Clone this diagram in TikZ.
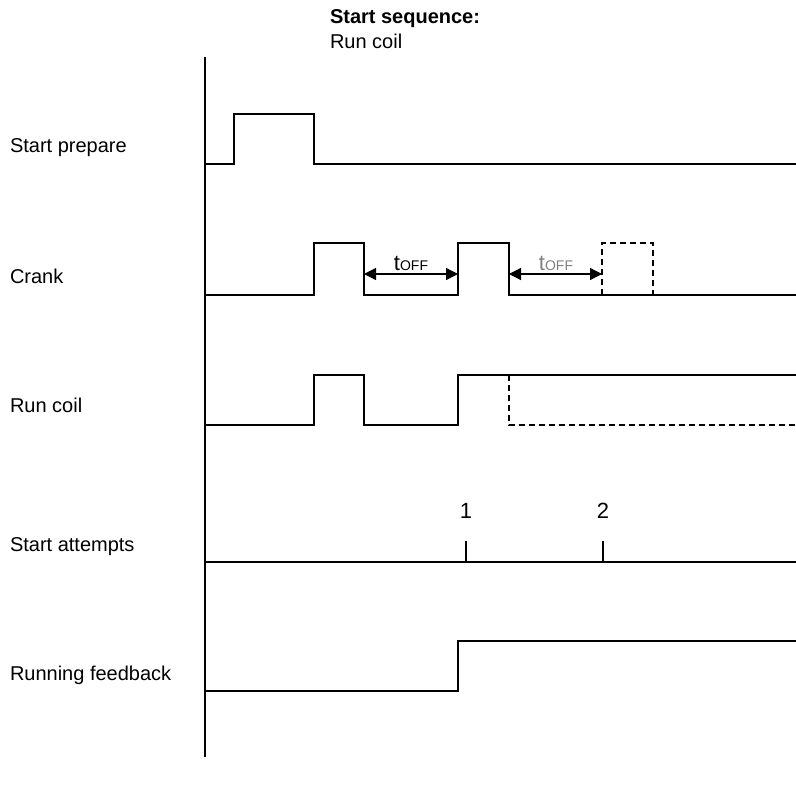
\documentclass[tikz,border=0pt]{standalone}
\usepackage{fontspec}
\setmainfont{Liberation Sans}
\usetikzlibrary{arrows.meta,positioning}

\begin{document}
\begin{tikzpicture}[
    x=1pt, y=-1pt,
    every node/.style={inner sep=0pt, outer sep=0pt},
    lbl/.style={anchor=base west, font=\fontsize{20}{24}\selectfont},
    num/.style={anchor=base, font=\fontsize{22}{26}\selectfont},
    sig/.style={line width=1.3pt, line join=miter},
    ghost/.style={sig, dash pattern=on 6pt off 4pt},
    toff/.style={{Triangle[length=12pt,width=12pt]}-{Triangle[length=12pt,width=12pt]}, line width=1.3pt},
    tag/.style={anchor=base, font=\fontsize{22}{26}\selectfont}
]
\useasboundingbox (0,0) rectangle (796,785);

% Nodes
\node (title) [lbl, font=\fontsize{20}{24}\selectfont\bfseries] at (330,23) {Start sequence:};
\node (sub) [lbl] at (330,48) {Run coil};

\node (lprep) [lbl] at (10,152) {Start prepare};
\node (lcrank) [lbl] at (10,283) {Crank};
\node (lrun) [lbl] at (10,412) {Run coil};
\node (latt) [lbl] at (10,551) {Start attempts};
\node (lfb) [lbl] at (10,680) {Running feedback};

\node (n1) [num] at (466,518) {1};
\node (n2) [num] at (603,518) {2};

% Axis
\coordinate (axtop) at (205,57);
\coordinate (axbot) at (205,757);
\draw [sig] (axtop) -- (axbot);

% Signals
\draw [sig] (205,164) -- (234,164) -- (234,114) -- (314,114) -- (314,164) -- (796,164);

\draw [sig] (205,295) -- (314,295) -- (314,243) -- (364,243) -- (364,295) -- (458,295)
    -- (458,243) -- (509,243) -- (509,295) -- (796,295);
\draw [ghost] (602,295) -- (602,243) -- (653,243) -- (653,295);

\draw [sig] (205,425) -- (314,425) -- (314,375) -- (364,375) -- (364,425) -- (458,425)
    -- (458,375) -- (796,375);
\draw [ghost] (509,375) -- (509,425) -- (796,425);

\draw [sig] (205,562) -- (796,562);
\draw [sig] (466,562) -- (466,541);
\draw [sig] (603,562) -- (603,541);

\draw [sig] (205,691) -- (458,691) -- (458,641) -- (796,641);

% Connectors
\coordinate (off1a) at (364,274);
\coordinate (off1b) at (458,274);
\coordinate (off2a) at (509,274);
\coordinate (off2b) at (602,274);
\draw [toff] (off1a) -- (off1b);
\draw [toff] (off2a) -- (off2b);
\node (t1) [tag] at (411,270) {t{\fontsize{14}{16}\selectfont OFF}};
\node (t2) [tag, text=gray] at (556,270) {t{\fontsize{14}{16}\selectfont OFF}};

\end{tikzpicture}
\end{document}
